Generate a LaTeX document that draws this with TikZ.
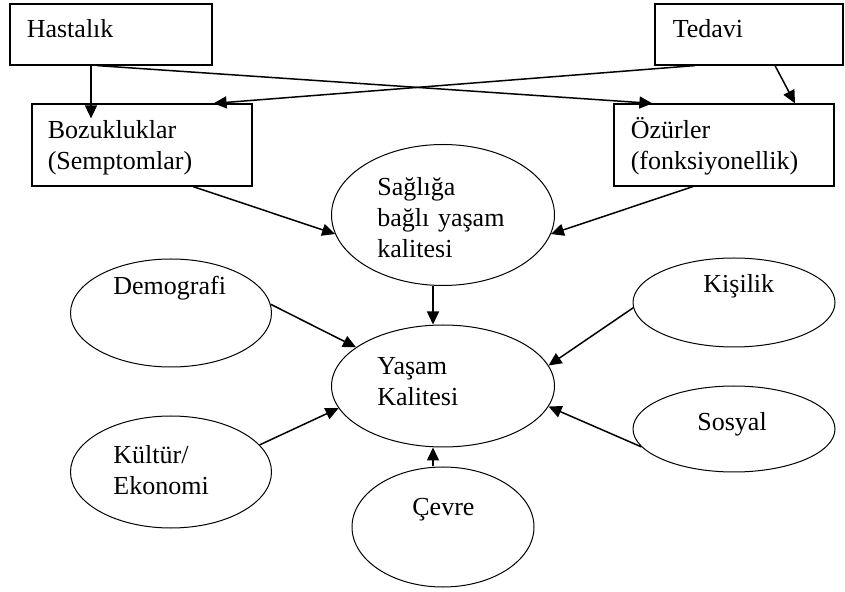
\documentclass[tikz,border=0pt]{standalone}
\usepackage{fontspec}
\setmainfont{Liberation Serif}
\usetikzlibrary{arrows.meta,shapes.geometric,calc}

\begin{document}
\begin{tikzpicture}[x=0.5pt, y=-0.5pt,
        kutu/.style={draw, rectangle, inner sep=0pt, line width=0.6pt},
        elips/.style={draw, ellipse, inner sep=0pt, line width=0.5pt},
        yazi/.style={inner sep=0pt, anchor=base west, text width=4cm, align=left, font=\fontsize{13}{15.5}\selectfont},
        ok/.style={-{Triangle[length=6.5pt,width=6pt]}, line width=0.75pt}]
        \useasboundingbox (0,0) rectangle (845,592);
        \node[kutu, minimum width=101pt, minimum height=30.5pt] (hast) at (111,34.5) {};
        \node[kutu, minimum width=94pt, minimum height=30.5pt] (ted) at (749,34.5) {};
        \node[kutu, minimum width=110pt, minimum height=41pt] (boz) at (142,145) {};
        \node[kutu, minimum width=110pt, minimum height=41pt] (ozur) at (724,145) {};
        \node[elips, minimum width=111.5pt, minimum height=70.5pt] (sag) at (443,215) {};
        \node[elips, minimum width=111.5pt, minimum height=61pt] (yasam) at (443,386) {};
        \node[elips, minimum width=100.5pt, minimum height=54pt] (demo) at (171,313) {};
        \node[elips, minimum width=100.5pt, minimum height=56pt] (kult) at (171,472) {};
        \node[elips, minimum width=101pt, minimum height=44.5pt] (kis) at (734,302.5) {};
        \node[elips, minimum width=101pt, minimum height=43pt] (sos) at (734,429) {};
        \node[elips, minimum width=91pt, minimum height=60pt] (cev) at (443,527) {};

        \node[yazi] (hasttxt) at ($(hast.north west)+(17,34)$) {Hastalık};
        \node[yazi] (tedtxt) at ($(ted.north west)+(18,34)$) {Tedavi};
        \node[yazi] (boztxt) at ($(boz.north west)+(16,35)$) {Bozukluklar\\(Semptomlar)};
        \node[yazi] (ozurtxt) at ($(ozur.north west)+(17,35)$) {Özürler\\(fonksiyonellik)};
        \node[yazi] (sagtxt) at ($(sag)+(-66,-19)$) {Sağlığa\\bağlı yaşam\\kalitesi};
        \node[yazi] (yasamtxt) at ($(yasam)+(-66,-11)$) {Yaşam\\Kalitesi};
        \node[yazi] (demotxt) at ($(demo)+(-58,-18)$) {Demografi};
        \node[yazi] (kulttxt) at ($(kult)+(-58,-8)$) {Kültür/\\Ekonomi};
        \node[yazi] (kistxt) at ($(kis)+(-31,-9.5)$) {Kişilik};
        \node[yazi] (sostxt) at ($(sos)+(-37,2)$) {Sosyal};
        \node[yazi] (cevtxt) at ($(cev)+(-31,-11)$) {Çevre};

        \draw[ok] ($(hast.south)+(-20,0)$) -- ($(boz.north)+(-51,15)$);
        \draw[ok] ($(hast.south)+(-14,0)$) -- ($(ozur.north west)+(39,0)$);
        \draw[ok] ($(ted.south)+(-54,0)$) -- ($(boz.north east)+(-39,0)$);
        \draw[ok] ($(ted.south)+(26,0)$) -- ($(ozur.north)+(71,0)$);
        \draw[ok] ($(boz.south)+(51,0)$) -- (sag.190);
        \draw[ok] ($(ozur.south)+(-31,0)$) -- (sag.350);
        \draw[ok] ($(sag.south)+(-10,0)$) -- ($(yasam.north)+(-10,0)$);
        \draw[ok] (demo.5) -- (yasam.156);
        \draw[ok] (kult.17) -- (yasam.192);
        \draw[ok] (kis.183) -- (yasam.11);
        \draw[ok] (sos.191) -- (yasam.349);
        \draw[ok] ($(cev.north)+(-10,0)$) -- ($(yasam.south)+(-10,0)$);
\end{tikzpicture}
\end{document}
